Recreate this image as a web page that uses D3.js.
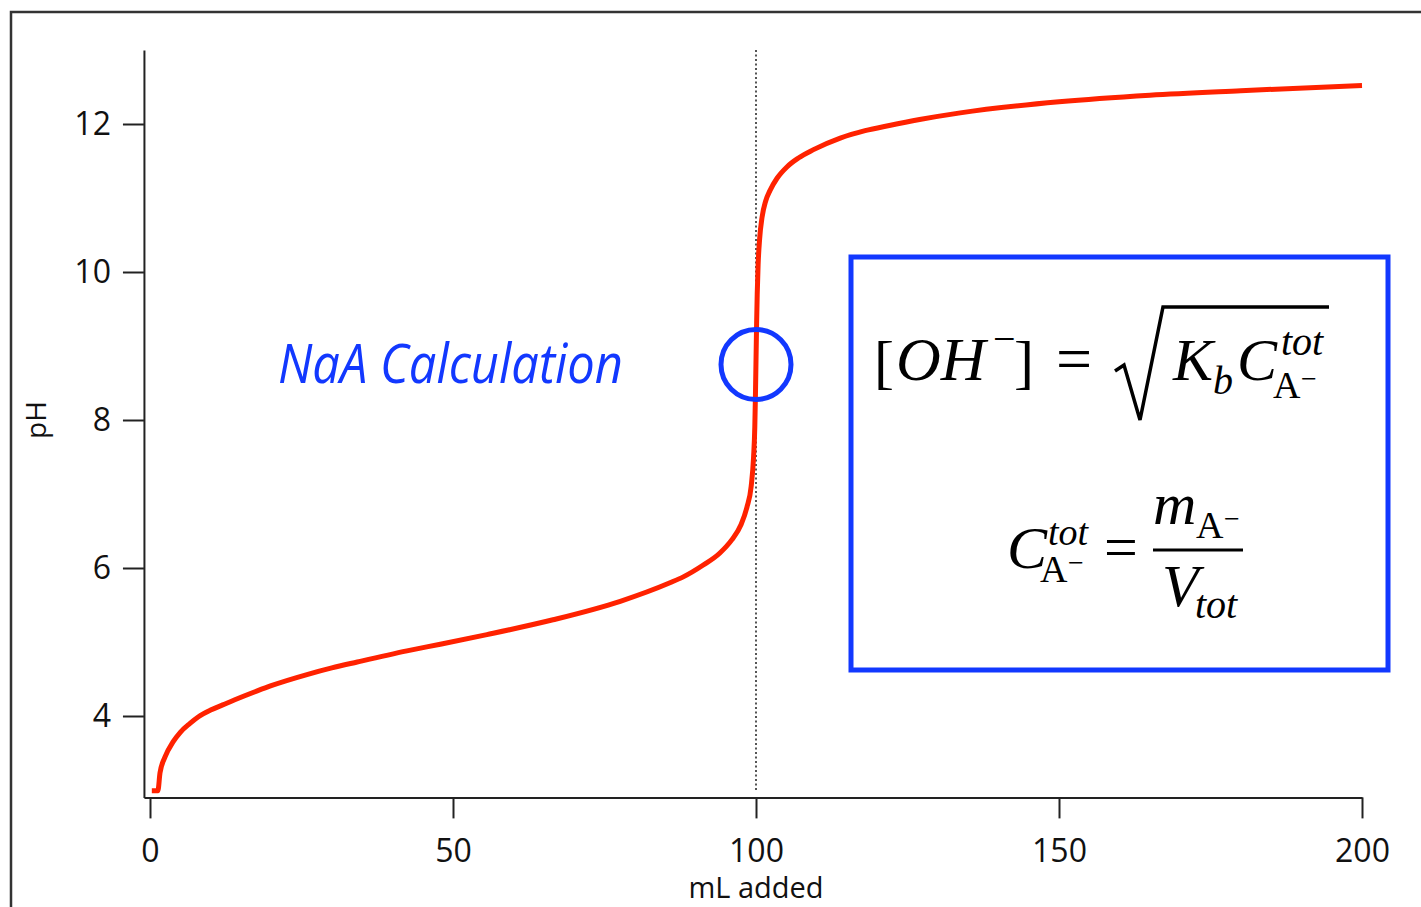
<!DOCTYPE html>
<html>
<head>
<meta charset="utf-8">
<script src="https://cdn.jsdelivr.net/npm/d3@7"></script>
<style>
  body { margin: 0; background: #fff; }
  svg { display: block; }
  .axis path, .axis line { stroke: #222; stroke-width: 2; }
  .axis text { font-family: "Open Sans", sans-serif; font-size: 32px; fill: #111; }
  .eq { font-family: "Liberation Serif", "Times New Roman", serif; fill: #000; }
</style>
</head>
<body>
<svg id="chart" width="1421" height="907"></svg>
<script>
// titration curve
const mL = [0.3, 1.3, 1.65, 2.5, 3.8, 5, 6.6, 8, 10, 12, 14, 17.7, 20, 25.9, 30, 34.2, 42.4, 47.9, 55.6, 66.5, 77.6, 85.8, 88, 91.3, 94, 96, 97.5, 98.5, 99.2, 99.6, 99.8, 99.9, 100, 100.1, 100.2, 100.35, 100.6, 101, 101.6, 102.3, 103.5, 105.1, 107, 109.4, 113.9, 118, 122, 127, 133.7, 150, 165, 180, 200]
const pH = [2.99, 2.99, 3.23, 3.45, 3.65, 3.78, 3.9, 3.99, 4.08, 4.15, 4.22, 4.34, 4.41, 4.56, 4.65, 4.73, 4.88, 4.97, 5.1, 5.3, 5.55, 5.8, 5.88, 6.04, 6.2, 6.38, 6.58, 6.82, 7.1, 7.5, 7.9, 8.3, 8.8, 9.3, 9.7, 10.1, 10.45, 10.74, 10.96, 11.1, 11.27, 11.42, 11.54, 11.65, 11.81, 11.91, 11.98, 12.06, 12.15, 12.3, 12.39, 12.45, 12.52]
const xTicks = [0, 50, 100, 150, 200]
const yTicks = [4, 6, 8, 10, 12]
const equivalence = 100
const circleAt = [100, 8.75]

const svg = d3.select("#chart")
const red = "#ff2200", blue = "#1238ff"

const x = d3.scaleLinear().domain([-1, 200]).range([143.94, 1362])
const y = d3.scaleLinear().domain([2.9, 13]).range([797.4, 50])

// outer frame (only top and left are visible)
svg.append("path")
    .attr("d", "M11,907 V12 H1421")
    .attr("fill", "none").attr("stroke", "#333").attr("stroke-width", 2.5)

svg.append("g").attr("class", "axis")
    .attr("transform", `translate(0,${y(2.9)})`)
    .call(d3.axisBottom(x).tickValues(xTicks).tickSize(21).tickSizeOuter(0).tickPadding(21))

svg.append("g").attr("class", "axis")
    .attr("transform", `translate(${x(-1)},0)`)
    .call(d3.axisLeft(y).tickValues(yTicks).tickSize(21).tickSizeOuter(0).tickPadding(12))

svg.append("text")
    .attr("transform", "translate(46,420) rotate(-90)")
    .attr("text-anchor", "middle")
    .style("font-family", "Open Sans, sans-serif").style("font-size", "28px").attr("fill", "#111")
    .text("pH")

svg.append("text")
    .attr("x", x(100)).attr("y", 898)
    .attr("text-anchor", "middle")
    .style("font-family", "Open Sans, sans-serif").style("font-size", "29px").attr("fill", "#111")
    .text("mL added")

// equivalence marker
svg.append("line")
    .attr("x1", x(equivalence)).attr("x2", x(equivalence))
    .attr("y1", y(13)).attr("y2", y(3.0))
    .attr("stroke", "#555").attr("stroke-width", 2).attr("stroke-dasharray", "2,2.5")

const pts = mL.map((d, i) => [d, pH[i]])
const line = d3.line().x(d => x(d[0])).y(d => y(d[1])).curve(d3.curveMonotoneX)
svg.append("path")
    .attr("d", line(pts))
    .attr("fill", "none").attr("stroke", red).attr("stroke-width", 5)
    .attr("stroke-linejoin", "round")

svg.append("circle")
    .attr("cx", x(circleAt[0])).attr("cy", y(circleAt[1])).attr("r", 35)
    .attr("fill", "none").attr("stroke", blue).attr("stroke-width", 5)

svg.append("text")
    .attr("x", 278).attr("y", 383)
    .attr("textLength", 345).attr("lengthAdjust", "spacingAndGlyphs")
    .style("font-family", "Open Sans, sans-serif").style("font-size", "54px").style("font-style", "italic")
    .attr("fill", blue)
    .text("NaA Calculation")

// formula box
svg.append("rect")
    .attr("x", 851).attr("y", 257).attr("width", 537).attr("height", 413)
    .attr("fill", "none").attr("stroke", blue).attr("stroke-width", 5)

const eq = svg.append("g").attr("class", "eq")
function put(txt, px, py, size, italic) {
    eq.append("text").attr("x", px).attr("y", py)
        .style("font-size", size + "px").style("font-style", italic ? "italic" : "normal")
        .text(txt)
}
// [OH-] = sqrt(Kb C_A-^tot)
put("[", 874, 382, 60, false)
put("OH", 896, 380, 62, true)
put("\u2212", 993, 352, 40, false)
put("]", 1014, 382, 60, false)
put("=", 1056, 380, 64, false)
eq.append("path")
    .attr("d", "M1115,371 L1124,365 L1140,420 L1163,307 L1329,307")
    .attr("fill", "none").attr("stroke", "#000").attr("stroke-width", 3.5)
put("K", 1173, 380, 60, true)
put("b", 1213, 394, 40, true)
put("C", 1237, 380, 60, true)
put("tot", 1281, 355, 40, true)
put("A", 1273, 398, 38, false)
put("\u2212", 1301, 388, 28, false)

// C_A-^tot = m_A- / V_tot
put("C", 1007, 568, 60, true)
put("tot", 1048, 545, 38, true)
put("A", 1040, 582, 38, false)
put("\u2212", 1068, 572, 28, false)
put("=", 1104, 567, 60, false)
eq.append("line")
    .attr("x1", 1153).attr("x2", 1243).attr("y1", 550).attr("y2", 550)
    .attr("stroke", "#000").attr("stroke-width", 3)
put("m", 1153, 524, 60, true)
put("A", 1196, 538, 38, false)
put("\u2212", 1224, 528, 28, false)
put("V", 1162, 606, 60, true)
put("tot", 1195, 618, 40, true)
</script>
</body>
</html>
